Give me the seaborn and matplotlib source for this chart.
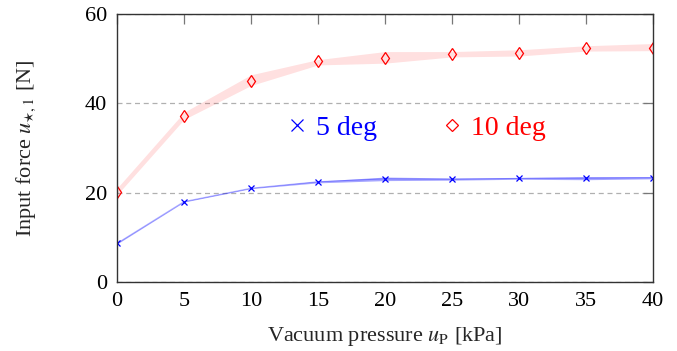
import matplotlib
matplotlib.use("Agg")
import matplotlib.pyplot as plt
import seaborn as sns
import pandas as pd

# vacuum pressure [kPa]
pressure = [0, 5, 10, 15, 20, 25, 30, 35, 40]

# 5 deg series
force_5 = [8.65, 18.0, 21.0, 22.45, 23.1, 23.0, 23.2, 23.25, 23.35]
force_5_lo = [8.5, 17.9, 20.9, 22.2, 22.7, 22.8, 23.0, 22.9, 23.1]
force_5_hi = [8.8, 18.1, 21.1, 22.6, 23.5, 23.3, 23.4, 23.6, 23.6]

# 10 deg series
force_10 = [20.2, 37.2, 45.1, 49.4, 50.2, 51.1, 51.3, 52.3, 52.5]
force_10_lo = [19.5, 36.4, 44.0, 48.6, 49.0, 50.4, 50.6, 51.7, 51.8]
force_10_hi = [21.0, 38.0, 46.4, 49.8, 51.6, 51.6, 52.0, 52.9, 53.4]

sns.set_theme(style="white")
plt.rcParams["font.family"] = ["Liberation Serif", "DejaVu Serif"]
plt.rcParams["mathtext.fontset"] = "stix"

df = pd.DataFrame({"p": pressure, "f5": force_5, "f10": force_10})

fig = plt.figure(figsize=(6.77, 3.51), dpi=100)
ax = fig.add_axes([0.1728, 0.1966, 0.7918, 0.7634])

# bands
ax.fill_between(pressure, force_10_lo, force_10_hi, color="#ff0000", alpha=0.12, lw=0)
ax.fill_between(pressure, force_5_lo, force_5_hi, color="#0000ff", alpha=0.35, lw=0)

# mean line for 5 deg
sns.lineplot(data=df, x="p", y="f5", ax=ax, color="#0000ff", alpha=0.3, lw=0.8)

# markers
ax.plot(pressure, force_5, ls="none", marker="x", ms=5, mew=0.9, color="#0000ff",
        label="5 deg")
ax.plot(pressure, force_10, ls="none", marker="d", ms=6, mew=0.9, mfc="none",
        mec="#ff0000", label="10 deg")

ax.set_xlim(0, 40)
ax.set_ylim(0, 60)
ax.set_xticks(pressure)
ax.set_yticks([0, 20, 40, 60])

ax.yaxis.grid(True, ls=(0, (4, 3)), color="#b0b0b0", lw=0.9)
ax.xaxis.grid(False)
ax.set_axisbelow(True)

ax.tick_params(direction="in", top=True, right=True, length=7, width=0.9,
               color="#777777", labelsize=16, labelcolor="black", pad=7)
for s in ax.spines.values():
    s.set_color("#333333")
    s.set_linewidth(1.0)

ax.set_xlabel(r"Vacuum pressure $u_{\mathrm{P}}$ [kPa]", fontsize=16, labelpad=10)
ax.set_ylabel(r"Input force $u_{\star,1}$ [N]", fontsize=16, labelpad=34)

leg = ax.legend(loc="center", bbox_to_anchor=(0.56, 0.575), ncol=2, frameon=False,
                fontsize=20, handlelength=0.6, handletextpad=0.4,
                columnspacing=2.4)
leg.legend_handles[0].set_markersize(8.5)
leg.legend_handles[1].set_marker("D")
leg.legend_handles[1].set_markersize(6)
for txt, c in zip(leg.get_texts(), ["#0000ff", "#ff0000"]):
    txt.set_color(c)

fig.savefig("out.png", dpi=100)
